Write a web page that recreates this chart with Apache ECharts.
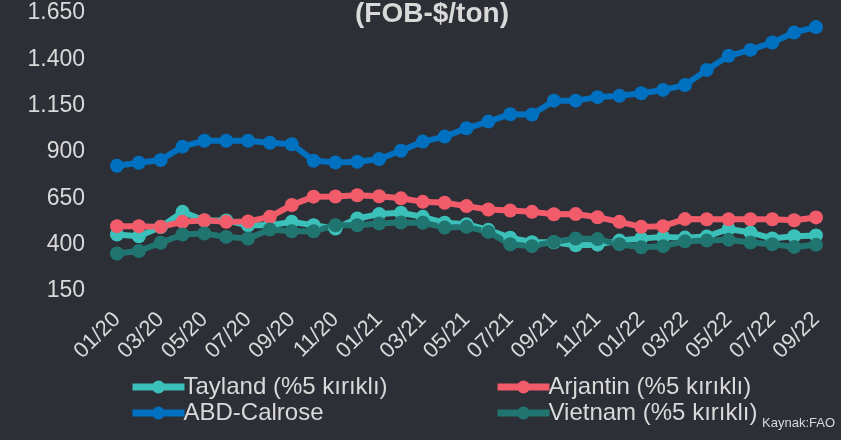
<!DOCTYPE html>
<html>
<head>
<meta charset="utf-8">
<script src="https://cdn.jsdelivr.net/npm/echarts@6/dist/echarts.min.js"></script>
<style>
html,body{margin:0;padding:0;background:#2d2f36;}
#chart{width:841px;height:440px;}
</style>
</head>
<body>
<div id="chart"></div>
<script>
// aylar (01/20 - 09/22)
var months = ['01/20','02/20','03/20','04/20','05/20','06/20','07/20','08/20','09/20','10/20','11/20','12/20',
	'01/21','02/21','03/21','04/21','05/21','06/21','07/21','08/21','09/21','10/21','11/21','12/21',
	'01/22','02/22','03/22','04/22','05/22','06/22','07/22','08/22','09/22'];

var tayland = [455,445,495,577,530,530,505,505,523,505,487,541,565,572,550,518,510,480,437,413,413,397,
	400,422,433,442,438,444,485,466,433,446,450];
var arjantin = [500,500,496,523,532,523,525,550,614,659,660,667,661,650,631,626,608,590,584,577,564,565,
	548,523,496,500,538,537,537,537,537,532,547];
var abd = [826,842,857,929,961,961,961,950,942,853,844,847,862,907,956,983,1028,1064,1104,1102,1177,1177,
	1196,1203,1217,1235,1261,1343,1419,1451,1491,1545,1574];
var vietnam = [352,366,410,455,460,442,433,482,472,472,505,505,514,520,518,493,496,469,402,392,415,433,
	430,402,386,392,418,422,426,412,402,388,399];

var seriesNames = ['Tayland (%5 kırıklı)','Arjantin (%5 kırıklı)','ABD-Calrose','Vietnam (%5 kırıklı)'];
var seriesColors = ['#3bc1b9','#f25c6a','#0070c0','#217570'];
var seriesData = [tayland, arjantin, abd, vietnam];

var textColor = '#d9d9d9';
var fontName = '"Liberation Sans", Arial, sans-serif';

function fmtNum(v){
	if(v >= 1000){
		var r = String(v % 1000);
		while(r.length < 3) r = '0' + r;
		return Math.floor(v / 1000) + '.' + r;
	}
	return String(v);
}

function lineSeries(i){
	return {
		name: seriesNames[i],
		type: 'line',
		data: seriesData[i],
		symbol: 'circle',
		symbolSize: 14,
		color: seriesColors[i],
		lineStyle: {width: 6, color: seriesColors[i]},
		itemStyle: {color: seriesColors[i]},
		animation: false
	};
}

function legendBlock(left, names){
	return {
		orient: 'vertical',
		left: left,
		top: 370,
		itemWidth: 52,
		itemHeight: 16,
		itemGap: 2,
		data: names,
		lineStyle: {width: 7},
		textStyle: {color: textColor, fontSize: 24, fontFamily: fontName, padding: [0,0,0,-6]}
	};
}

var chart = echarts.init(document.getElementById('chart'));
var series = [];
for(var i = 0; i < seriesData.length; i++){
	series.push(lineSeries(i));
}

chart.setOption({
	backgroundColor: '#2d2f36',
	textStyle: {fontFamily: fontName},
	grid: {left: 117, right: 25, top: 13, bottom: 149, containLabel: false},
	xAxis: {
		type: 'category',
		data: months,
		boundaryGap: false,
		axisLine: {show: false},
		axisTick: {show: false},
		splitLine: {show: false},
		axisLabel: {
			interval: 1,
			rotate: 45,
			margin: 25,
			color: textColor,
			fontSize: 22,
			fontFamily: fontName
		}
	},
	yAxis: {
		type: 'value',
		min: 150,
		max: 1650,
		interval: 250,
		axisLine: {show: false},
		axisTick: {show: false},
		splitLine: {show: false},
		axisLabel: {
			margin: 32,
			color: textColor,
			fontSize: 23,
			fontFamily: fontName,
			formatter: fmtNum
		}
	},
	legend: [legendBlock(124, [seriesNames[0], seriesNames[2]]), legendBlock(489, [seriesNames[1], seriesNames[3]])],
	graphic: [{
		type: 'text',
		x: 432,
		y: 14,
		style: {
			text: '(FOB-$/ton)',
			fill: textColor,
			align: 'center',
			verticalAlign: 'middle',
			font: 'bold 28px ' + fontName
		}
	},{
		type: 'text',
		right: 6,
		top: 417,
		style: {
			text: 'Kaynak:FAO',
			fill: textColor,
			font: '13px ' + fontName
		}
	}],
	series: series
});
</script>
</body>
</html>
